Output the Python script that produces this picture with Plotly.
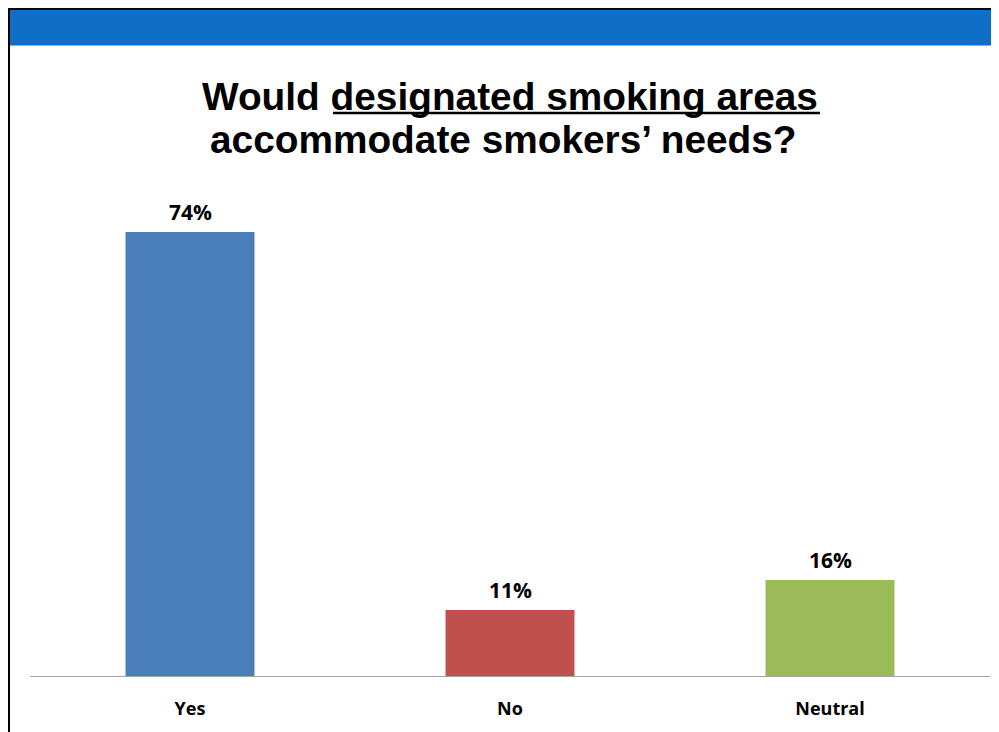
import plotly.graph_objects as go

categories = ["Yes", "No", "Neutral"]
values = [74, 11, 16]
colors = ["#4A7EBB", "#C0504D", "#9BBB59"]
title_line1 = "Would designated smoking areas"
title_line2 = "accommodate smokers\u2019 needs?"

# page is rendered with an 8px body margin; positions below are page pixels
OFF = 8
W, H = 991, 724
ML, MR, MT, MB = 22, 9, 188, 56
PW = W - ML - MR
PH = H - MT - MB

def px_x(p):
    """page pixel x -> paper coordinate"""
    return (p - OFF - ML) / PW

def px_y(p):
    """page pixel y -> paper coordinate"""
    return (H - MB - (p - OFF)) / PH

fig = go.Figure()
fig.add_trace(go.Bar(
    x=categories, y=values, marker=dict(color=colors, line=dict(width=0)),
    hoverinfo="skip",
))

for c, v in zip(categories, values):
    fig.add_annotation(
        x=c, y=v, xref="x", yref="y", text=f"<b>{v}%</b>", showarrow=False,
        yanchor="bottom", yshift=4,
        font=dict(family="Open Sans", size=21, color="#000000"),
    )

# title
fig.add_annotation(x=px_x(510), y=px_y(96), xref="paper", yref="paper",
                   text=f"<b>{title_line1}</b>", showarrow=False,
                   xanchor="center", yanchor="middle",
                   font=dict(family="Liberation Sans", size=38.8, color="#000000"))
fig.add_annotation(x=px_x(503), y=px_y(139), xref="paper", yref="paper",
                   text=f"<b>{title_line2}</b>", showarrow=False,
                   xanchor="center", yanchor="middle",
                   font=dict(family="Liberation Sans", size=38.8, color="#000000"))

shapes = [
    # blue header band
    dict(type="rect", xref="paper", yref="paper", x0=px_x(8), x1=px_x(1002),
         y0=px_y(45.5), y1=px_y(9), fillcolor="#0F6FC6", line=dict(width=0), layer="below"),
    # black top border
    dict(type="line", xref="paper", yref="paper", x0=px_x(8), x1=px_x(1002),
         y0=px_y(9), y1=px_y(9), line=dict(color="#000000", width=2)),
    # black left border
    dict(type="line", xref="paper", yref="paper", x0=px_x(9), x1=px_x(9),
         y0=px_y(740), y1=px_y(8), line=dict(color="#000000", width=2)),
    # title underline
    dict(type="line", xref="paper", yref="paper", x0=px_x(333), x1=px_x(820),
         y0=px_y(113), y1=px_y(113), line=dict(color="#000000", width=2.5)),
]

fig.update_layout(
    width=W, height=H,
    margin=dict(l=ML, r=MR, t=MT, b=MB, pad=0),
    paper_bgcolor="white", plot_bgcolor="white",
    bargap=0.597,
    showlegend=False,
    shapes=shapes,
    xaxis=dict(
        showgrid=False, zeroline=False, showline=True, linecolor="#A6A6A6", linewidth=1,
        ticks="", ticklabelstandoff=16,
        tickfont=dict(family="Open Sans", size=18, color="#000000"),
        tickprefix="<b>", ticksuffix="</b>",
    ),
    yaxis=dict(range=[0, 80], visible=False, showgrid=False, zeroline=False),
)

fig.write_html("out.html")
